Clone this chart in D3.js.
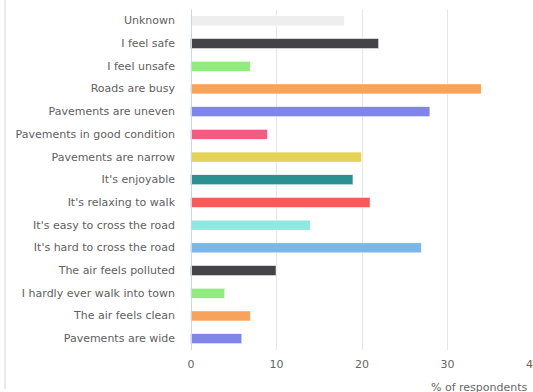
<!DOCTYPE html>
<html><head><meta charset="utf-8">
<script src="https://cdn.jsdelivr.net/npm/d3@7"></script>
<style>
html,body{margin:0;padding:0;background:#fff;overflow:hidden;}
svg{display:block;font-family:"DejaVu Sans",Verdana,sans-serif;}
</style></head>
<body>
<svg id="chart" width="533" height="392"></svg>
<script>
const categories = ["Unknown","I feel safe","I feel unsafe","Roads are busy","Pavements are uneven","Pavements in good condition","Pavements are narrow","It's enjoyable","It's relaxing to walk","It's easy to cross the road","It's hard to cross the road","The air feels polluted","I hardly ever walk into town","The air feels clean","Pavements are wide"];
const values = [18,22,7,34,28,9,20,19,21,14,27,10,4,7,6];
const colors = ["#eeeeee","#434348","#90ed7d","#f7a35c","#8085e9","#f15c80","#e4d354","#2b908f","#f45b5b","#91e8e1","#7cb5ec","#434348","#90ed7d","#f7a35c","#8085e9"];
const xTicks = [0,10,20,30,40];
const xTitle = "% of respondents";

const svg = d3.select("#chart");
const mLeft = 190.5, mRight = 532.5, mTop = 9.5, mBottom = 350;
const x = d3.scaleLinear().domain([0,40]).range([mLeft,mRight]);
const y = d3.scaleBand().domain(categories).range([mTop,mBottom]).paddingInner(0.56).paddingOuter(0.28);

// frame line on left
svg.append("line").attr("x1",5).attr("x2",5).attr("y1",0).attr("y2",389).attr("stroke","#e3e3e3").attr("stroke-width",1.5);

// grid
svg.append("g").selectAll("line").data(xTicks.slice(1)).join("line")
  .attr("x1",d=>Math.round(x(d))+0.5).attr("x2",d=>Math.round(x(d))+0.5)
  .attr("y1",mTop).attr("y2",mBottom).attr("stroke","#e6e6e6");

// bars
svg.append("g").selectAll("rect").data(categories).join("rect")
  .attr("x",x(0)).attr("y",d=>y(d))
  .attr("width",(d,i)=>x(values[i])-x(0)).attr("height",y.bandwidth())
  .attr("fill",(d,i)=>colors[i]).attr("stroke","#fff").attr("stroke-width",0.5);

// y axis line
svg.append("line").attr("x1",Math.round(mLeft)+0.5).attr("x2",Math.round(mLeft)+0.5).attr("y1",mTop).attr("y2",mBottom).attr("stroke","#ccd6eb");

// y labels
const yAxis = d3.axisLeft(y).tickSize(0).tickPadding(15.5);
const gy = svg.append("g").attr("transform",`translate(${mLeft},0)`).call(yAxis);
gy.select(".domain").remove();
gy.selectAll("text").attr("fill","#606060").attr("font-size","11px").attr("font-family","'DejaVu Sans',Verdana,sans-serif");

// x axis
const xAxis = d3.axisBottom(x).tickValues(xTicks).tickSize(0).tickPadding(0);
const gx = svg.append("g").attr("transform",`translate(0,360)`).call(xAxis);
gx.select(".domain").remove();
gx.selectAll("text").attr("fill","#666").attr("font-size","11px").attr("font-family","'DejaVu Sans',Verdana,sans-serif");

svg.append("text").attr("x",431).attr("y",390.5).attr("text-anchor","start")
  .attr("fill","#666").attr("font-size","11px").text(xTitle);
</script>
</body></html>
